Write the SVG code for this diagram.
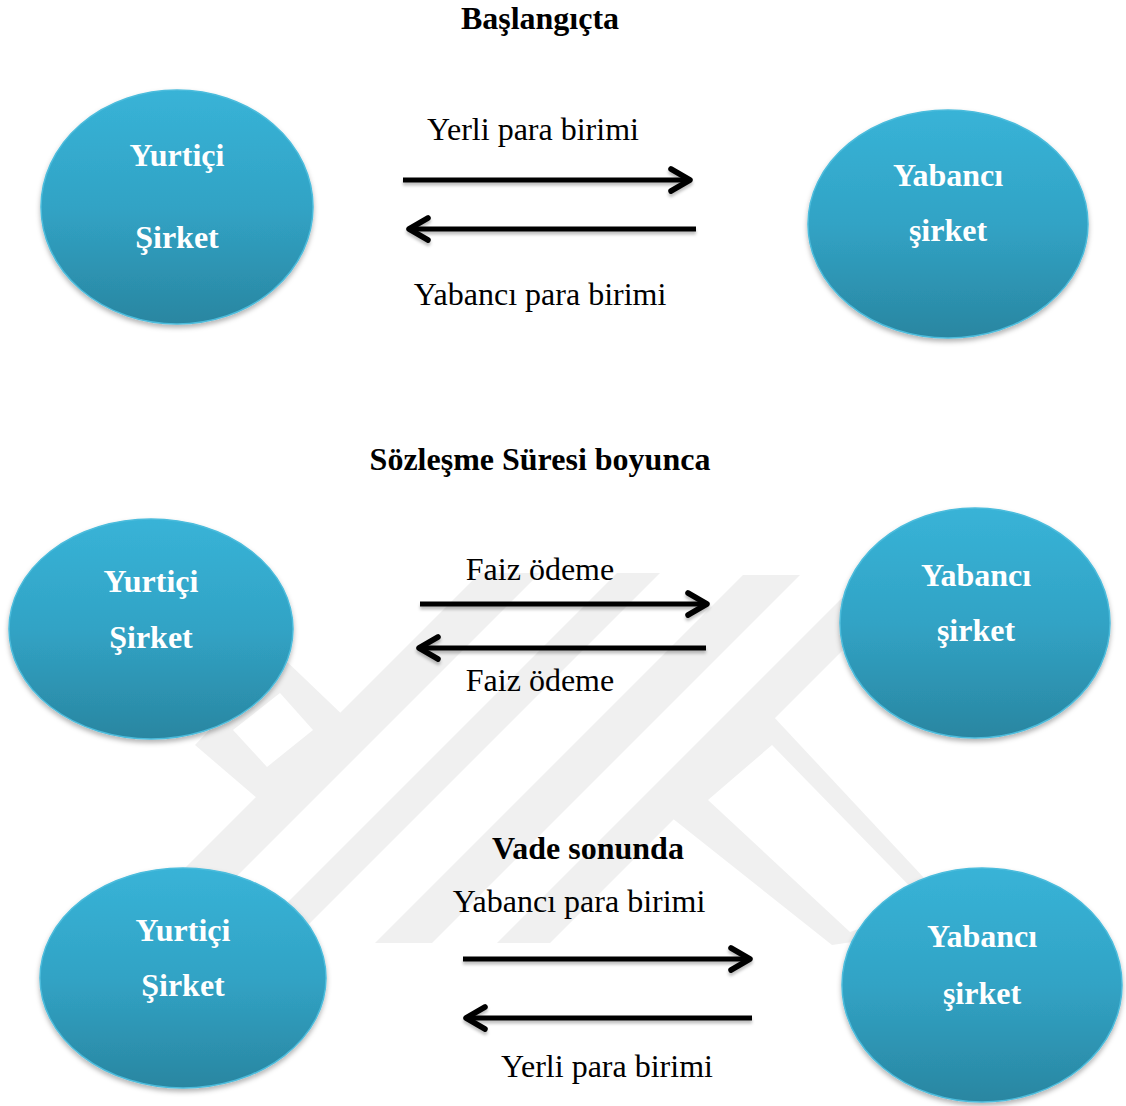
<svg xmlns="http://www.w3.org/2000/svg" width="1126" height="1106" viewBox="0 0 1126 1106">
<style>
.t{font-family:"Liberation Serif","Times New Roman",serif;font-size:32px;fill:#000;text-anchor:middle}
.b{font-weight:bold}
.n{font-family:"Liberation Serif","Times New Roman",serif;font-size:32px;font-weight:bold;fill:#fff;text-anchor:middle}
.e{fill:url(#g);stroke:#4cbcdc;stroke-width:1.5;filter:url(#sh)}
.a{stroke:#000;stroke-width:5;fill:none;marker-end:url(#ah)}
.wm{fill:#f0f0f0}
</style>
<defs>
<linearGradient id="g" x1="0" y1="0" x2="0" y2="1">
<stop offset="0" stop-color="#38b3d7"/>
<stop offset="0.5" stop-color="#31a3c5"/>
<stop offset="1" stop-color="#2a86a1"/>
</linearGradient>
<filter id="sh" x="-10%" y="-10%" width="120%" height="125%">
<feDropShadow dx="0" dy="3" stdDeviation="2.5" flood-color="#000" flood-opacity="0.3"/>
</filter>
<filter id="ash" filterUnits="userSpaceOnUse" x="0" y="0" width="1126" height="1106">
<feDropShadow dx="0" dy="3" stdDeviation="1.5" flood-color="#000" flood-opacity="0.25"/>
</filter>
<marker id="ah" markerUnits="userSpaceOnUse" viewBox="-24 -14 28 28" refX="0" refY="0" markerWidth="28" markerHeight="28" orient="auto">
<path d="M-19 -11 L0 0 L-19 11" fill="none" stroke="#000" stroke-width="5.5" stroke-linecap="round" stroke-linejoin="round"/>
</marker>
</defs>
<rect width="1126" height="1106" fill="#fff"/>
<g id="watermark">
<polygon class="wm" points="195,745 280,655 350,722 265,805"/>
<polygon fill="#fff" points="233,730 280,693 313,730 267,767"/>
<polygon class="wm" points="672,818 772,715 968,925 832,945"/>
<polygon fill="#fff" points="708,800 772,745 928,905 850,932"/>
<polygon class="wm" points="375,943 432,943 800,575 743,575"/>
<polygon class="wm" points="247,943 290,943 660,573 617,573"/>
<polygon class="wm" points="110,943 170,943 540,573 480,573"/>
<polygon class="wm" points="497,943 550,943 918,575 865,575"/>
</g>
<g id="titles">
<text class="t b" x="540" y="29">Başlangıçta</text>
<text class="t b" x="540" y="470">Sözleşme Süresi boyunca</text>
<text class="t b" x="588" y="859">Vade sonunda</text>
</g>
<g id="connectors" filter="url(#ash)">
<line class="a" x1="403" y1="180" x2="690" y2="180"/>
<line class="a" x1="696" y1="229" x2="409" y2="229"/>
<line class="a" x1="420" y1="604" x2="707" y2="604"/>
<line class="a" x1="706" y1="648" x2="419" y2="648"/>
<line class="a" x1="463" y1="959" x2="750" y2="959"/>
<line class="a" x1="752" y1="1018" x2="466" y2="1018"/>
</g>
<g id="labels">
<text class="t" x="533" y="140">Yerli para birimi</text>
<text class="t" x="540" y="305">Yabancı para birimi</text>
<text class="t" x="540" y="580">Faiz ödeme</text>
<text class="t" x="540" y="691">Faiz ödeme</text>
<text class="t" x="579" y="912">Yabancı para birimi</text>
<text class="t" x="607" y="1077">Yerli para birimi</text>
</g>
<g id="n1">
<ellipse class="e" cx="177" cy="207" rx="136" ry="117"/>
<text class="n" x="177" y="166">Yurtiçi</text>
<text class="n" x="177" y="248">Şirket</text>
</g>
<g id="n2">
<ellipse class="e" cx="948" cy="224" rx="140" ry="114"/>
<text class="n" x="948" y="186">Yabancı</text>
<text class="n" x="948" y="241">şirket</text>
</g>
<g id="n3">
<ellipse class="e" cx="151" cy="629" rx="142" ry="110"/>
<text class="n" x="151" y="592">Yurtiçi</text>
<text class="n" x="151" y="648">Şirket</text>
</g>
<g id="n4">
<ellipse class="e" cx="975" cy="623" rx="135" ry="115"/>
<text class="n" x="976" y="586">Yabancı</text>
<text class="n" x="976" y="641">şirket</text>
</g>
<g id="n5">
<ellipse class="e" cx="183" cy="978" rx="143" ry="110"/>
<text class="n" x="183" y="941">Yurtiçi</text>
<text class="n" x="183" y="996">Şirket</text>
</g>
<g id="n6">
<ellipse class="e" cx="982" cy="985" rx="140" ry="117"/>
<text class="n" x="982" y="947">Yabancı</text>
<text class="n" x="982" y="1004">şirket</text>
</g>
</svg>
